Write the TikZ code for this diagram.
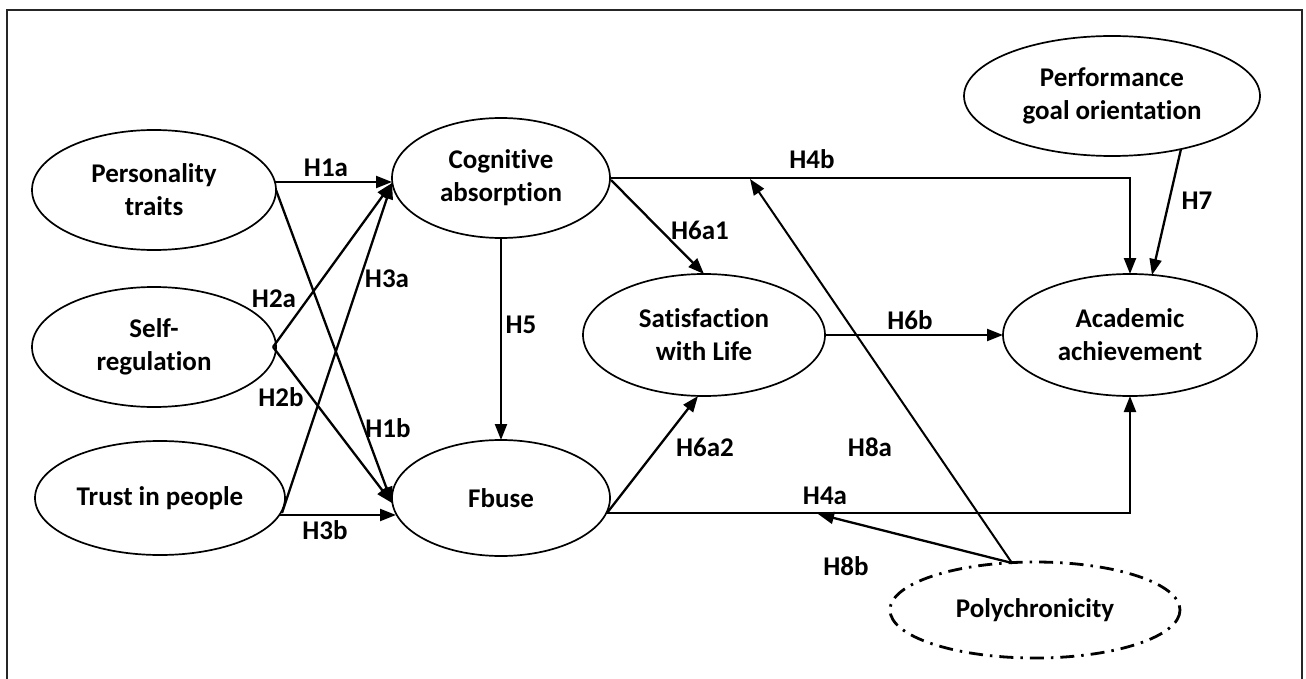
\documentclass[tikz,border=0pt]{standalone}
\usepackage{fontspec}
\setmainfont{Carlito}[RawFeature=-liga]
\usetikzlibrary{shapes.geometric,arrows.meta,calc}
\tikzset{
  ell/.style={ellipse, draw, line width=1.7pt, inner sep=0pt, outer sep=0pt, align=center,
     font=\fontsize{27}{33}\selectfont\bfseries},
  lab/.style={font=\fontsize{27}{33}\selectfont\bfseries, inner sep=0pt},
  arr/.style={line width=2.3pt, -{Triangle[length=16pt,width=12pt]}},
  thinarr/.style={line width=2pt, -{Triangle[length=16pt,width=12pt]}},
}
\begin{document}
\begin{tikzpicture}[x=1pt,y=-1pt]
\useasboundingbox (0,0) rectangle (1306,679);
\draw[line width=2.2pt, black!85] (7,682) -- (7,10) -- (1302,10) -- (1302,682);

% nodes
\node[ell, minimum width=244pt, minimum height=120pt] (pers) at (154,190) {Personality\\traits};
\node[ell, minimum width=244pt, minimum height=120pt] (self) at (154,347) {Self-\\regulation};
\node[ell, minimum width=250pt, minimum height=114pt] (trust) at (160,498) {Trust in people};
\node[ell, minimum width=218pt, minimum height=120pt] (cog) at (501,178) {Cognitive\\absorption};
\node[ell, minimum width=218pt, minimum height=116pt] (fbuse) at (501,498) {Fbuse};
\node[ell, minimum width=242pt, minimum height=122pt] (sat) at (704,335) {Satisfaction\\with Life};
\node[ell, minimum width=254pt, minimum height=122pt] (acad) at (1130,335) {Academic\\achievement};
\node[ell, minimum width=296pt, minimum height=120pt] (perf) at (1112,96) {Performance\\goal orientation};
\node[ell, draw=none, minimum width=290pt, minimum height=96pt] (poly) at (1035,610) {Polychronicity};
\draw[line width=2.8pt, dash pattern=on 14pt off 7pt on 2.5pt off 7pt] (poly.center) ellipse [x radius=145, y radius=48];

\coordinate (h8a) at (750,179);
\coordinate (h8b) at (818,514);

% connectors
\draw[arr] ($(pers.center)+(121,-8)$) -- ($(cog.center)+(-109,4)$);
\draw[arr] ($(pers.center)+(122,0)$) -- ($(fbuse.center)+(-109,5)$);
\draw[arr] ($(self.center)+(119,0)$) -- ($(cog.center)+(-109,5)$);
\draw[arr] ($(self.center)+(119,0)$) -- ($(fbuse.center)+(-109,5)$);
\draw[arr] ($(trust.center)+(122,15)$) -- ($(cog.center)+(-109,5)$);
\draw[arr] ($(trust.center)+(120,17)$) -- ($(fbuse.center)+(-105,17)$);
\draw[arr] (cog.south) -- (fbuse.north);
\draw[arr] ($(cog.center)+(110,2)$) -- (sat.north);
\draw[arr] ($(fbuse.center)+(106,15)$) -- ($(sat.center)+(-6,61)$);
\draw[arr] (sat.east) -- (acad.west);
\draw[arr] (cog.east) -| (acad.north);
\draw[arr] ($(fbuse.center)+(106,15)$) -| (acad.south);
\draw[arr] ($(perf.center)+(69,53)$) -- ($(acad.center)+(22,-60)$);
\draw[thinarr] ($(poly.center)+(-23,-47)$) -- (h8a);
\draw[arr] ($(poly.center)+(-23,-47)$) -- (h8b);

% labels
\node[lab] (l1a) at (326,168) {H1a};
\node[lab] (l1b) at (388,428) {H1b};
\node[lab] (l2a) at (274,299) {H2a};
\node[lab] (l2b) at (281,397) {H2b};
\node[lab] (l3a) at (387,279) {H3a};
\node[lab] (l3b) at (325,530) {H3b};
\node[lab] (l5) at (521,325) {H5};
\node[lab] (l6a1) at (700,230) {H6a1};
\node[lab] (l6a2) at (705,447) {H6a2};
\node[lab] (l6b) at (910,320) {H6b};
\node[lab] (l4b) at (812,159) {H4b};
\node[lab] (l4a) at (825,496) {H4a};
\node[lab] (l7) at (1197,201) {H7};
\node[lab] (l8a) at (870,447) {H8a};
\node[lab] (l8b) at (846,566) {H8b};
\end{tikzpicture}
\end{document}
